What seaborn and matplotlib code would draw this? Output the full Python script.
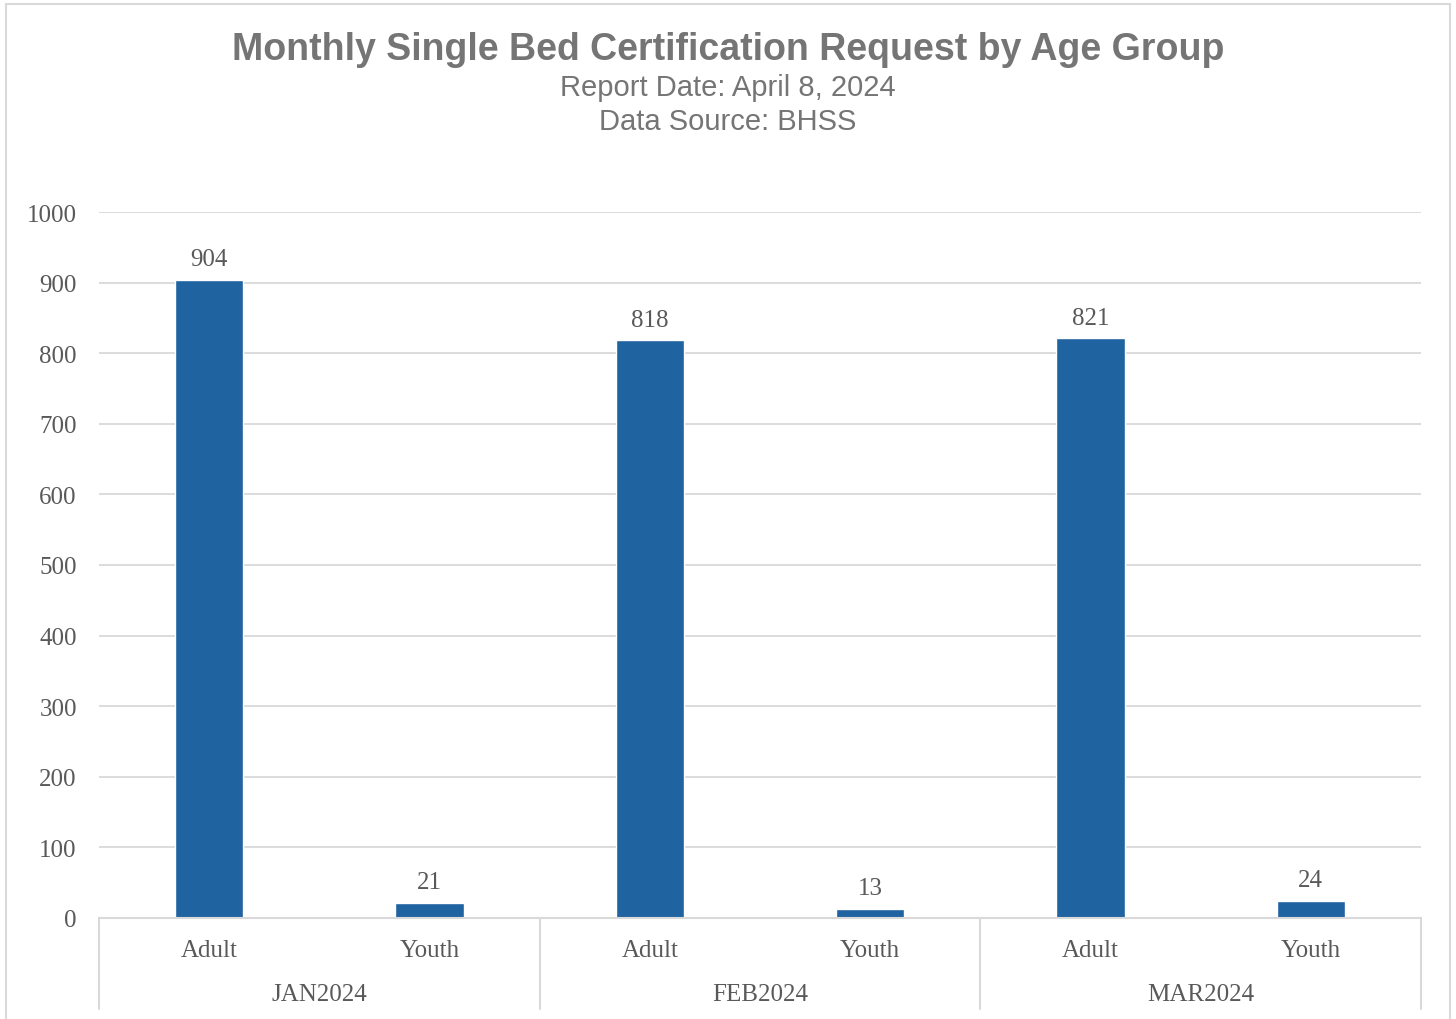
import pandas as pd
import matplotlib
matplotlib.use("Agg")
import matplotlib.pyplot as plt
import matplotlib.transforms as mtransforms
from matplotlib.patches import Rectangle
import seaborn as sns

# data
months = ["JAN2024", "FEB2024", "MAR2024"]
groups = ["Adult", "Youth"]
adult_counts = [904, 818, 821]
youth_counts = [21, 13, 24]

rows = []
for m, a, y in zip(months, adult_counts, youth_counts):
    rows.append({"month": m, "group": "Adult", "requests": a})
    rows.append({"month": m, "group": "Youth", "requests": y})
df = pd.DataFrame(rows)
df["slot"] = df["month"] + "|" + df["group"]

# style
sns.set_theme(style="white")
plt.rcParams["font.family"] = ["Liberation Sans", "DejaVu Sans"]
SERIF = ["Liberation Serif", "DejaVu Serif"]
BAR = "#1F63A0"
GRID = "#D9D9D9"
TXT = "#595959"
FS = 18

fig = plt.figure(figsize=(14.56, 10.2), dpi=100)
ax = fig.add_axes([99 / 1456, 1 - 919 / 1020, (1421 - 99) / 1456, (919 - 213) / 1020])

sns.barplot(data=df, x="slot", y="requests", color=BAR, width=0.31,
            saturation=1, ax=ax, order=list(df["slot"]))

ax.set_ylim(0, 1000)
ax.set_xlim(-0.5, len(df) - 0.5)
ax.set_yticks(range(0, 1001, 100))
ax.yaxis.grid(True, color=GRID, linewidth=1.3)
ax.set_axisbelow(True)
for s in ["top", "right", "left"]:
    ax.spines[s].set_visible(False)
ax.spines["bottom"].set_color(GRID)
ax.spines["bottom"].set_linewidth(1.5)
ax.set_xlabel("")
ax.set_ylabel("")
ax.set_xticks(range(len(df)))
ax.set_xticklabels(df["group"])
ax.tick_params(axis="both", length=0, colors=TXT, labelsize=FS)
ax.tick_params(axis="x", pad=15)
ax.tick_params(axis="y", pad=16)
for lab in ax.get_xticklabels() + ax.get_yticklabels():
    lab.set_family(SERIF)

# data labels
for i, v in enumerate(df["requests"]):
    ax.annotate(str(v), (i, v), xytext=(0, 7), textcoords="offset points",
                ha="center", va="bottom", fontsize=FS, color=TXT, family=SERIF)

# month level of the category axis
trans = mtransforms.blended_transform_factory(ax.transData, ax.transAxes)
for k in range(len(months) + 1):
    xpos = -0.5 + 2 * k
    ax.plot([xpos, xpos], [0, -0.129], transform=trans, color=GRID,
            linewidth=1.5, clip_on=False)
for k, m in enumerate(months):
    ax.text(0.5 + 2 * k, -0.108, m, transform=trans, ha="center", va="center",
            fontsize=FS, color=TXT, family=SERIF)

# titles
fig.text(0.5, 1 - 50 / 1020, "Monthly Single Bed Certification Request by Age Group",
         ha="center", va="center", fontsize=27, fontweight="bold", color="#757575")
fig.text(0.5, 1 - 88 / 1020, "Report Date: April 8, 2024",
         ha="center", va="center", fontsize=21, color="#757575")
fig.text(0.5, 1 - 122 / 1020, "Data Source: BHSS",
         ha="center", va="center", fontsize=21, color="#757575")

# chart border
fig.patches.append(Rectangle((6 / 1456, -0.02), 1444 / 1456, 1 - 5 / 1020 + 0.02,
                             transform=fig.transFigure, fill=False,
                             edgecolor=GRID, linewidth=1.5))

fig.savefig("out.png", dpi=100)
